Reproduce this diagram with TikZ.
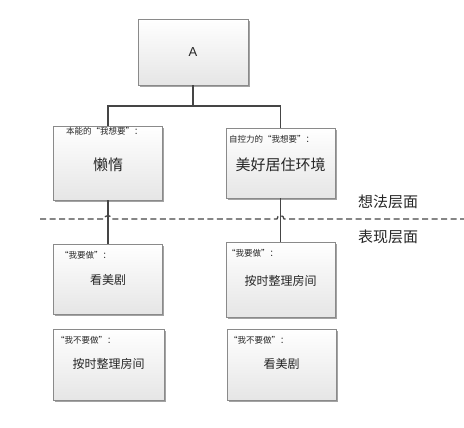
\documentclass[tikz,border=0pt]{standalone}
\usepackage{fontspec}
\setmainfont{Liberation Sans}
\newfontfamily\cjk{Noto Sans CJK SC}
\usetikzlibrary{shadows}
\definecolor{linec}{HTML}{454545}
\definecolor{boxc}{HTML}{8A8A8A}
\definecolor{txtc}{HTML}{262626}
\begin{document}
\begin{tikzpicture}[x=1pt,y=-1pt,
  box/.style={draw=boxc, line width=0.8pt, top color=white, bottom color=black!10,
    minimum width=109pt, minimum height=72pt, inner sep=0pt,
    drop shadow={shadow xshift=1.6pt, shadow yshift=-1.6pt, fill=black!45, opacity=0.8}},
  hdr/.style={anchor=west, inner sep=0pt, text=txtc, font=\cjk\fontsize{8.5}{10}\selectfont},
  mainA/.style={inner sep=0pt, text=txtc, font=\cjk\fontsize{15}{17}\selectfont},
  mainB/.style={inner sep=0pt, text=txtc, font=\cjk\fontsize{12}{14}\selectfont},
  layer/.style={anchor=west, inner sep=0pt, text=txtc, font=\cjk\fontsize{15}{17}\selectfont},
  conn/.style={draw=linec, line width=1.3pt},
  sep/.style={draw=linec, line width=1.3pt, dash pattern=on 6pt off 3.5pt}]
\useasboundingbox (0,0) rectangle (464,428);

% top box
\node[box, minimum width=110pt, minimum height=66pt] (A) at (193,52) {};
\node[inner sep=0pt, text=txtc, font=\fontsize{13}{15}\selectfont] (At) at (193,52) {A};

% level 1
\node[box, minimum height=74pt] (L1) at (108,163) {};
\node[mainA] (L1t) at (108,165) {懒惰};
\node[hdr] (L1h) at (66,131) {本能的“我想要”：};

\node[box, minimum height=70pt] (R1) at (280.5,163) {};
\node[mainA] (R1t) at (280.5,165) {美好居住环境};
\node[hdr] (R1h) at (229,139) {自控力的“我想要”：};

% level 2
\node[box, minimum height=70pt] (L2) at (108,279) {};
\node[mainB] (L2t) at (108,280) {看美剧};
\node[hdr] (L2h) at (60,255) {“我要做”：};

\node[box, minimum height=75pt] (R2) at (280.5,279.5) {};
\node[mainB] (R2t) at (280.5,281) {按时整理房间};
\node[hdr] (R2h) at (227,253) {“我要做”：};

% level 3
\node[box, minimum width=111pt, minimum height=71pt] (L3) at (108.5,364.5) {};
\node[mainB] (L3t) at (108.5,364) {按时整理房间};
\node[hdr] (L3h) at (56,340) {“我不要做”：};

\node[box, minimum height=71pt] (R3) at (281.5,364.5) {};
\node[mainB] (R3t) at (281.5,364) {看美剧};
\node[hdr] (R3h) at (229,340) {“我不要做”：};

% layer labels
\node[layer] (up) at (358,202) {想法层面};
\node[layer] (down) at (358,237) {表现层面};

% connectors
\coordinate (J) at (193,106);
\coordinate (JL) at (108,106);
\coordinate (JR) at (280.5,106);
\draw[conn] (A.south) -- (J);
\draw[conn] (L1.north) -- (JL) -- (JR) -- (R1.north);
\draw[conn] (L1.south) -- (L2.north);
\draw[conn] (R1.south) -- (R2.north);

% separator with hops
\coordinate (S0) at (40,219);
\coordinate (S1) at (464,219);
\draw[sep] (S0) -- (104.5,219) arc[start angle=180, end angle=360, radius=3.5]
  -- (277,219) arc[start angle=180, end angle=360, radius=3.5] -- (S1);
\end{tikzpicture}
\end{document}
